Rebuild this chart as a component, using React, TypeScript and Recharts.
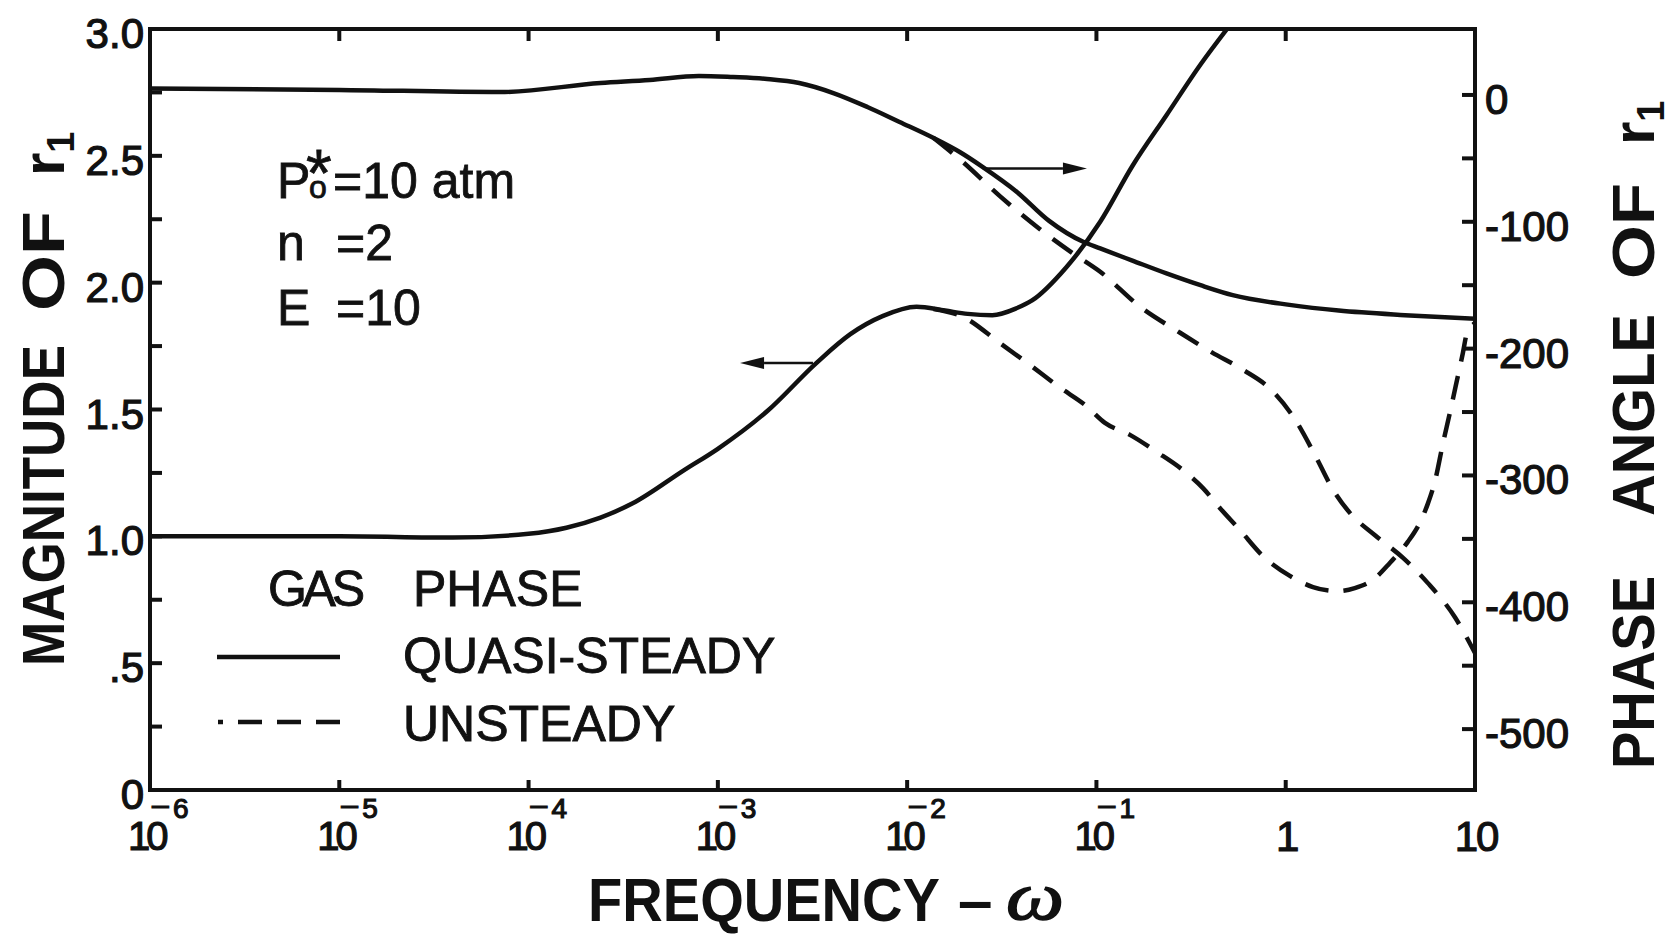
import React from "react";
import {
  Customized,
  Legend,
  Line,
  LineChart,
  ReferenceLine,
  XAxis,
  YAxis,
} from "recharts";

const FONT = "'Liberation Sans', Arial, sans-serif";
const INK = "#111";

// frequency samples are stored as log10(ω)
const MAG_QS_LOGW = [
  -6, -5, -4.4, -4, -3.8, -3.62, -3.45, -3.18, -3.0, -2.74, -2.48, -2.3, -2.13,
  -1.95, -1.8, -1.68, -1.55, -1.42, -1.34, -1.16, -0.98, -0.81, -0.63, -0.45,
  -0.31,
];
const MAG_QS = [
  1.0, 1.0, 0.995, 1.01, 1.034, 1.074, 1.13, 1.26, 1.345, 1.493, 1.683, 1.797,
  1.868, 1.905, 1.89, 1.877, 1.872, 1.9, 1.93, 2.06, 2.24, 2.46, 2.66, 2.86, 3.0,
];

const MAG_US_LOGW = [
  -1.86, -1.705, -1.51, -1.35, -1.19, -1.06, -0.955, -0.823, -0.68, -0.543,
  -0.437, -0.348, -0.242, -0.12, 0.022, 0.144, 0.27, 0.365, 0.46, 0.55, 0.645,
  0.71, 0.75, 0.79, 0.83, 0.867, 0.905, 0.936, 0.957, 1.0,
];
const MAG_US = [
  1.896, 1.865, 1.762, 1.675, 1.585, 1.518, 1.447, 1.4, 1.332, 1.261, 1.19,
  1.112, 1.025, 0.922, 0.844, 0.8, 0.784, 0.796, 0.828, 0.895, 0.978, 1.056,
  1.127, 1.222, 1.364, 1.486, 1.616, 1.723, 1.8, 1.84,
];

const PHASE_QS_LOGW = [
  -6, -5, -4.15, -3.62, -3.36, -3.1, -2.92, -2.74, -2.57, -2.39, -2.21, -2.04,
  -1.86, -1.72, -1.6, -1.42, -1.25, -1.07, -0.98, -0.81, -0.63, -0.45, -0.28,
  0.02, 0.28, 0.63, 1.0,
];
const PHASE_QS = [
  5, 4, 2.3, 9.4, 11.8, 15, 14.1, 12.6, 9.4, 1.5, -9.5, -21.3, -34, -45.2,
  -56.9, -76.5, -99.3, -115.8, -121, -130.6, -140.7, -150, -157.8, -165.5, -170,
  -173.6, -176.4,
];

const PHASE_US_LOGW = [
  -1.86, -1.71, -1.51, -1.3, -1.12, -0.98, -0.77, -0.56, -0.39, -0.23, -0.08,
  0.055, 0.155, 0.245, 0.34, 0.47, 0.62, 0.75, 0.895, 1.0,
];
const PHASE_US = [
  -34, -52.3, -79.8, -105.7, -125.3, -139.4, -166.9, -187.3, -203, -216.3,
  -232, -257.2, -284, -310, -329.7, -347, -365, -384.7, -412, -440,
];

const X_TICKS = [1e-6, 1e-5, 1e-4, 1e-3, 1e-2, 1e-1, 1, 10];
const X_TICK_BASE = ["10", "10", "10", "10", "10", "10", "1", "10"];
const X_TICK_EXP = ["6", "5", "4", "3", "2", "1", "", ""];

const MAG_TICKS = [0, 0.25, 0.5, 0.75, 1, 1.25, 1.5, 1.75, 2, 2.25, 2.5, 2.75, 3];
const MAG_LABELS: Record<string, string> = {
  "0": "0",
  "0.5": ".5",
  "1": "1.0",
  "1.5": "1.5",
  "2": "2.0",
  "2.5": "2.5",
  "3": "3.0",
};

const PHASE_TICKS = [-500, -450, -400, -350, -300, -250, -200, -150, -100, -50, 0];
const PHASE_LABELS: Record<string, string> = {
  "-500": "-500",
  "-400": "-400",
  "-300": "-300",
  "-200": "-200",
  "-100": "-100",
  "0": "0",
};

// arrows pointing each group of curves to its axis
const PHASE_ARROW_W = [0.0251, 0.0891];
const PHASE_ARROW_LEVEL = -58;
const MAG_ARROW_W = [0.00318, 0.00131];
const MAG_ARROW_LEVEL = 1.683;

const toPoints = (logw: number[], vals: number[]) =>
  logw.map((lw, i) => ({ w: Math.pow(10, lw), v: vals[i] }));

const AXIS_LINE = { stroke: INK, strokeWidth: 4, strokeLinecap: "square" as const };
const TXT = { fontFamily: FONT, fill: INK, stroke: INK, strokeWidth: 1.2 };

function MagTick(props: any) {
  const { x, y, payload } = props;
  const label = MAG_LABELS[String(payload.value)];
  return (
    <g>
      <line x1={x} x2={x + 12} y1={y} y2={y} stroke={INK} strokeWidth={4} />
      {label && (
        <text {...TXT} x={x - 6} y={y + 19} textAnchor="end" fontSize={42}>
          {label}
        </text>
      )}
    </g>
  );
}

function PhaseTick(props: any) {
  const { x, y, payload } = props;
  const label = PHASE_LABELS[String(payload.value)];
  return (
    <g>
      <line x1={x} x2={x - 13} y1={y} y2={y} stroke={INK} strokeWidth={4} />
      {label && (
        <text {...TXT} x={x + 10} y={y + 19} textAnchor="start" fontSize={42}>
          {label}
        </text>
      )}
    </g>
  );
}

function FreqTick(props: any) {
  const { x, y, payload } = props;
  const i = X_TICKS.indexOf(payload.value);
  const base = X_TICK_BASE[i];
  const exp = X_TICK_EXP[i];
  return (
    <g>
      <line x1={x} x2={x} y1={y} y2={y - 10} stroke={INK} strokeWidth={4} />
      {exp ? (
        <text {...TXT} x={x - 22} y={y + 60} fontSize={40}>
          <tspan letterSpacing={-4}>{base}</tspan>
          <tspan x={x + 2} y={y + 25} fontSize={30}>
            –
          </tspan>
          <tspan x={x + 23} y={y + 28} fontSize={28}>
            {exp}
          </tspan>
        </text>
      ) : (
        <text {...TXT} x={x + 1} y={y + 61} fontSize={42} textAnchor="middle" letterSpacing={-2}>
          {base}
        </text>
      )}
    </g>
  );
}

function TopTick(props: any) {
  const { x, y } = props;
  return <line x1={x} x2={x} y1={y} y2={y + 12} stroke={INK} strokeWidth={4} />;
}

function VWord({ x, y, len, children }: any) {
  return (
    <text
      x={x}
      y={y}
      transform={`rotate(-90 ${x} ${y})`}
      fontFamily={FONT}
      fontWeight={700}
      fontSize={60}
      fill={INK}
      textLength={len}
      lengthAdjust="spacingAndGlyphs"
    >
      {children}
    </text>
  );
}

function RSub({ x, y }: { x: number; y: number }) {
  return (
    <text
      x={x}
      y={y}
      transform={`rotate(-90 ${x} ${y})`}
      fontFamily={FONT}
      fontWeight={700}
      fontSize={60}
      fill={INK}
    >
      r
      <tspan dy={10} fontSize={38}>
        1
      </tspan>
    </text>
  );
}

function MagTitle() {
  return (
    <g>
      <VWord x={64} y={666} len={321}>MAGNITUDE</VWord>
      <VWord x={64} y={311} len={100}>OF</VWord>
      <RSub x={64} y={176} />
    </g>
  );
}

function PhaseTitle() {
  return (
    <g>
      <VWord x={1654} y={769} len={193}>PHASE</VWord>
      <VWord x={1654} y={516} len={202}>ANGLE</VWord>
      <VWord x={1654} y={279} len={96}>OF</VWord>
      <RSub x={1654} y={145} />
    </g>
  );
}

function FreqTitle() {
  return (
    <g fontFamily={FONT} fill={INK}>
      <text x={588} y={921} fontSize={62} fontWeight={700} textLength={352} lengthAdjust="spacingAndGlyphs">
        FREQUENCY
      </text>
      <text x={958} y={921} fontSize={62} fontWeight={700}>
        –
      </text>
      <text
        x={1006}
        y={919}
        fontSize={68}
        fontStyle="italic"
        fontFamily="'Liberation Serif', serif"
        stroke={INK}
        strokeWidth={1.5}
        textLength={58}
        lengthAdjust="spacingAndGlyphs"
      >
        ω
      </text>
    </g>
  );
}

function Arrow(props: any) {
  const { x1, y1, x2, y2 } = props;
  const dir = x2 > x1 ? 1 : -1;
  const hx = x2 - dir * 24;
  return (
    <g>
      <line x1={x1} y1={y1} x2={hx} y2={y2} stroke={INK} strokeWidth={2.5} />
      <polygon points={`${x2},${y2} ${hx},${y2 - 6} ${hx},${y2 + 6}`} fill={INK} />
    </g>
  );
}

function ParamNotes() {
  return (
    <g>
      <g fontFamily={FONT} fill={INK} stroke={INK} strokeWidth={0.8} fontSize={50}>
        <text x={277} y={198}>
          P
          <tspan x={306} y={196} fontSize={66}>
            *
          </tspan>
          <tspan x={309} y={198} fontSize={32}>
            o
          </tspan>
          <tspan x={333} y={198}>
            =10 atm
          </tspan>
        </text>
        <text x={277} y={260}>
          n<tspan x={336}>=2</tspan>
        </text>
        <text x={277} y={325}>
          E<tspan x={336}>=10</tspan>
        </text>
      </g>
      <MagTitle />
      <PhaseTitle />
      <FreqTitle />
    </g>
  );
}

function GasPhaseKey() {
  return (
    <svg width={1673} height={934} style={{ display: "block" }}>
      <g fontFamily={FONT} fill={INK} stroke={INK} strokeWidth={0.9} fontSize={50}>
        <text x={268} y={606} textLength={97}>GAS</text>
        <text x={413} y={606}>PHASE</text>
        <text x={403} y={673}>QUASI-STEADY</text>
        <text x={403} y={741}>UNSTEADY</text>
      </g>
      <line x1={217} x2={340} y1={657} y2={657} stroke={INK} strokeWidth={4.5} />
      <line
        x1={218}
        x2={343}
        y1={722}
        y2={722}
        stroke={INK}
        strokeWidth={4.5}
        strokeDasharray="5 15 24 15 24 15 24"
      />
    </svg>
  );
}

export default function App() {
  const magQs = toPoints(MAG_QS_LOGW, MAG_QS);
  const magUs = toPoints(MAG_US_LOGW, MAG_US);
  const phaseQs = toPoints(PHASE_QS_LOGW, PHASE_QS);
  const phaseUs = toPoints(PHASE_US_LOGW, PHASE_US);

  return (
    <div
      style={{
        position: "absolute",
        left: 0,
        top: 0,
        width: 1673,
        height: 934,
        background: "#fff",
      }}
    >
      <LineChart width={1673} height={934} margin={{ top: 0, right: 0, bottom: 0, left: 0 }}>
        <XAxis
          xAxisId="top"
          orientation="top"
          type="number"
          dataKey="w"
          scale="log"
          domain={[1e-6, 10]}
          ticks={X_TICKS}
          interval={0}
          height={29}
          tickSize={0}
          tickMargin={0}
          tickLine={false}
          axisLine={AXIS_LINE}
          tick={(p: any) => <TopTick {...p} />}
          allowDataOverflow
        />
        <XAxis
          xAxisId="bottom"
          orientation="bottom"
          type="number"
          dataKey="w"
          scale="log"
          domain={[1e-6, 10]}
          ticks={X_TICKS}
          interval={0}
          height={144}
          tickSize={0}
          tickMargin={0}
          tickLine={false}
          axisLine={AXIS_LINE}
          tick={(p: any) => <FreqTick {...p} />}
          allowDataOverflow
        />
        <YAxis
          yAxisId="mag"
          orientation="left"
          type="number"
          width={150}
          domain={[0, 3]}
          ticks={MAG_TICKS}
          interval={0}
          tickSize={0}
          tickMargin={0}
          tickLine={false}
          axisLine={AXIS_LINE}
          tick={(p: any) => <MagTick {...p} />}
          allowDataOverflow
        />
        <YAxis
          yAxisId="phase"
          orientation="right"
          type="number"
          width={198}
          domain={[-548, 52]}
          ticks={PHASE_TICKS}
          interval={0}
          tickSize={0}
          tickMargin={0}
          tickLine={false}
          axisLine={AXIS_LINE}
          tick={(p: any) => <PhaseTick {...p} />}
          allowDataOverflow
        />
        <Line
          xAxisId="bottom"
          yAxisId="mag"
          data={magQs}
          dataKey="v"
          name="mag-quasi-steady"
          type="monotone"
          stroke={INK}
          strokeWidth={4.5}
          dot={false}
          isAnimationActive={false}
        />
        <Line
          xAxisId="bottom"
          yAxisId="mag"
          data={magUs}
          dataKey="v"
          name="mag-unsteady"
          type="monotone"
          stroke={INK}
          strokeWidth={4.5}
          strokeDasharray="24 15"
          dot={false}
          isAnimationActive={false}
        />
        <Line
          xAxisId="bottom"
          yAxisId="phase"
          data={phaseQs}
          dataKey="v"
          name="phase-quasi-steady"
          type="monotone"
          stroke={INK}
          strokeWidth={4.5}
          dot={false}
          isAnimationActive={false}
        />
        <Line
          xAxisId="bottom"
          yAxisId="phase"
          data={phaseUs}
          dataKey="v"
          name="phase-unsteady"
          type="monotone"
          stroke={INK}
          strokeWidth={4.5}
          strokeDasharray="24 15"
          dot={false}
          isAnimationActive={false}
        />
        <ReferenceLine
          xAxisId="bottom"
          yAxisId="phase"
          segment={[
            { x: PHASE_ARROW_W[0], y: PHASE_ARROW_LEVEL },
            { x: PHASE_ARROW_W[1], y: PHASE_ARROW_LEVEL },
          ]}
          shape={(p: any) => <Arrow {...p} />}
        />
        <ReferenceLine
          xAxisId="bottom"
          yAxisId="mag"
          segment={[
            { x: MAG_ARROW_W[0], y: MAG_ARROW_LEVEL },
            { x: MAG_ARROW_W[1], y: MAG_ARROW_LEVEL },
          ]}
          shape={(p: any) => <Arrow {...p} />}
        />
        <Legend
          layout="vertical"
          align="center"
          verticalAlign="middle"
          content={() => <GasPhaseKey />}
          wrapperStyle={{ left: 0, top: 0, width: 1673, height: 934, margin: 0 }}
        />
        <Customized component={ParamNotes} />
      </LineChart>
    </div>
  );
}
